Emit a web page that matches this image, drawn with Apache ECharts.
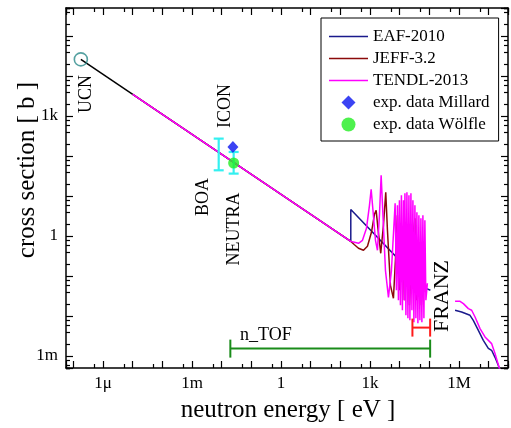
<!DOCTYPE html>
<html><head><meta charset="utf-8">
<script src="https://cdn.jsdelivr.net/npm/echarts@6/dist/echarts.min.js"></script>
<style>html,body{margin:0;padding:0;background:#fff}#c{width:511px;height:428px}</style>
</head><body><div id="c"></div>
<script>
// ---- tick labels (exponent -> label) ----
const xTickLabels = {'-6':'1μ','-3':'1m','0':'1','3':'1k','6':'1M'};
const yTickLabels = {'-3':'1m','0':'1','3':'1k'};

// ---- data: [energy eV, cross section b] ----
const ucnPoint = [[1.78e-7, 26000]];
const extrapolation = [[1.78e-7, 26000],[1e-5, 3470]];
const eaf2010 = [
  [1e-5,3470],[224,0.733],[224,4.57],[8.1e4,0.0484],[1.08e5,0.0439],null,
  [7.33e5,0.0139],[1.22e6,0.0126],[2.34e6,0.0104],[3.02e6,0.0078],[4.47e6,0.00439],
  [6.58e6,0.00247],[9.7e6,0.00156],[1.25e7,0.00139],[1.63e7,0.000928],[2.1e7,0.000585],[2.37e7,0.000439]
];
const jeff32 = [
  [1e-5,3470],[224,0.733],[298,0.603],[407,0.493],[600,0.439],[817,0.553],[1114,1.237],
  [1406,3.49],[1603,4.39],[1845,1.557],[2291,0.3694],[2825,1.851],[3381,12.37],[3855,1.388],
  [4864,0.0585],[6138,0.0277],[7161,0.247],[8370,3.29],[9772,0.0439],[12330,1.388],
  [14390,0.0247],[18160,1.851],[21230,0.0185],[26790,0.781],[32510,2.77],[36480,0.0247],
  [46030,0.439],[53830,0.0185],[65310,0.247],[73310,0.0391]
];
const tendl2013 = [
  [1e-5,3470],[224,0.733],[298,0.696],[407,0.657],[555,0.781],[757,1.557],[955,5.85],
  [1089,14.7],[1253,4.39],[1521,0.781],[1775,0.439],[2072,3.29],[2364,32.9],[2719,3.29],
  [3302,0.1388],[4168,0.0293],[5260,0.1388],[7000,6.57],[7741,0.0439],[8370,5.85],
  [9040,0.0247],[9772,7.81],[10560,0.0185],[11400,10.4],[12330,0.0139],[13330,7.81],
  [14390,0.0247],[14960,11.7],[16180,0.0104],[17470,12.4],[18880,0.00876],[20420,10.4],
  [22050,0.0078],[23840,11.7],[25760,0.0139],[27820,7.81],[30060,0.00696],[32510,5.85],
  [35110,0.00876],[37930,3.91],[41020,0.00657],[44260,3.29],[47860,0.0078],[51760,2.77],
  [55850,0.00696],[60390,3.29],[65310,0.00876],[70470,2.47],[76210,0.0247],[85700,0.0657],null,
  [7.33e5,0.0233],[1.08e6,0.0233],[1.40e6,0.0204],[2.06e6,0.0153],[2.66e6,0.0139],
  [3.46e6,0.00944],[5.10e6,0.00484],[7.5e6,0.00299],[1.25e7,0.00204],[1.63e7,0.00115],
  [2.22e7,0.000531],[2.46e7,0.000391]
];
const millard = [[0.0238, 168]];
const woelfle = [[0.0252, 66.8]];
// vertical error bars: [energy, low, high]
const cyanErrors = [[0.0079, 43.9, 272],[0.0252, 36.3, 126]];
// facility ranges: [E from, E to, level]
const ntofRange = [[0.0195, 1.06e5, 0.00153]];
const franzRange = [[2.68e4, 1.06e5, 0.00513]];

// ---- helpers ----
const L = v => Math.log10(v);
const toLog = arr => arr.map(p => p === null ? ['-','-'] : [L(p[0]), L(p[1])]);
const FONT = "'Liberation Serif','Times New Roman',Times,serif";
const XMIN = -7.25, XMAX = 7.65, YMIN = -3.3, YMAX = 5.7;
const X_MINOR = [5].map(Math.log10);
const Y_MINOR = [2,4,6,8].map(Math.log10);

function lab(map){
  return v => { const r = Math.round(v); return (Math.abs(v - r) < 1e-6 && map[r] !== undefined) ? map[r] : ''; };
}
function mkX(off, pos, major, showLabel){
  return {
    type:'value', position:pos, min:XMIN - off, max:XMAX - off,
    splitNumber:15, minInterval:1, maxInterval:1,
    axisLine:{show: off === 0, onZero:false, lineStyle:{color:'#000', width:1.5}},
    axisTick:{show:true, inside:true, length: major ? 7 : 4, lineStyle:{color:'#000', width:1.2}},
    axisLabel:{show:showLabel, margin:7, fontFamily:FONT, fontSize:17, color:'#000', formatter: lab(xTickLabels)},
    splitLine:{show:false}
  };
}
function mkY(off, pos, major, showLabel){
  return {
    type:'value', position:pos, min:YMIN - off, max:YMAX - off,
    splitNumber:9, minInterval:1, maxInterval:1,
    axisLine:{show: off === 0, onZero:false, lineStyle:{color:'#000', width:1.5}},
    axisTick:{show:true, inside:true, length: major ? 7 : 4, lineStyle:{color:'#000', width:1.2}},
    axisLabel:{show:showLabel, margin:8, fontFamily:FONT, fontSize:17, color:'#000', formatter: lab(yTickLabels)},
    splitLine:{show:false}
  };
}
const xAxes = [mkX(0,'bottom',true,true), mkX(0,'top',true,false)];
X_MINOR.forEach(o => { xAxes.push(mkX(o,'bottom',false,false)); xAxes.push(mkX(o,'top',false,false)); });
const yAxes = [mkY(0,'left',true,true), mkY(0,'right',true,false)];
Y_MINOR.forEach(o => { yAxes.push(mkY(o,'left',false,false)); yAxes.push(mkY(o,'right',false,false)); });

function lineSeries(name, data, color, z){
  return {name, type:'line', data: toLog(data), showSymbol:false, symbol:'none',
    lineStyle:{color, width:1.5}, itemStyle:{color}, connectNulls:false, z, animation:false};
}
function hRange(name, data, color){
  return {name, type:'custom', z:5, animation:false,
    data: data.map(d => [L(d[0]), L(d[1]), L(d[2])]),
    encode:{x:[0,1], y:2},
    renderItem(params, api){
      const p1 = api.coord([api.value(0), api.value(2)]);
      const p2 = api.coord([api.value(1), api.value(2)]);
      const st = {stroke: color, lineWidth: 2};
      return {type:'group', children:[
        {type:'line', shape:{x1:p1[0], y1:p1[1], x2:p2[0], y2:p2[1]}, style:st},
        {type:'line', shape:{x1:p1[0], y1:p1[1]-9, x2:p1[0], y2:p1[1]+9}, style:st},
        {type:'line', shape:{x1:p2[0], y1:p2[1]-9, x2:p2[0], y2:p2[1]+9}, style:st}
      ]};
    }};
}
function vErr(name, data, color){
  return {name, type:'custom', z:6, animation:false,
    data: data.map(d => [L(d[0]), L(d[1]), L(d[2])]),
    encode:{x:0, y:[1,2]},
    renderItem(params, api){
      const lo = api.coord([api.value(0), api.value(1)]);
      const hi = api.coord([api.value(0), api.value(2)]);
      const st = {stroke: color, lineWidth: 2.2};
      return {type:'group', children:[
        {type:'line', shape:{x1:lo[0], y1:lo[1], x2:hi[0], y2:hi[1]}, style:st},
        {type:'line', shape:{x1:lo[0]-5, y1:lo[1], x2:lo[0]+5, y2:lo[1]}, style:st},
        {type:'line', shape:{x1:hi[0]-5, y1:hi[1], x2:hi[0]+5, y2:hi[1]}, style:st}
      ]};
    }};
}

function txt(text, x, y, size, rot, align){
  return {type:'text', x, y, rotation: rot ? Math.PI/2 : 0, z:100,
    style:{text, fontFamily:FONT, fontSize:size, fill:'#000', align: align || 'center', verticalAlign:'middle'}};
}

const LINE_ICON = 'path://M0,0L100,0L100,4L0,4Z';
const DIAMOND_ICON = 'path://M0,-1L1,0L0,1L-1,0Z';

const chart = echarts.init(document.getElementById('c'), null, {renderer:'canvas'});
chart.setOption({
  animation:false,
  backgroundColor:'#fff',
  grid:{left:66, right:1, top:8, bottom:60, containLabel:false},
  xAxis: xAxes,
  yAxis: yAxes,
  legend:{
    orient:'vertical', left:321, top:18, padding:[10, 9, 8, 8],
    itemWidth:39, itemHeight:14, itemGap:5, symbolKeepAspect:true,
    borderColor:'#000', borderWidth:1, backgroundColor:'#fff', borderRadius:0,
    textStyle:{fontFamily:FONT, fontSize:17, color:'#000'},
    data:[
      {name:'EAF-2010', icon:LINE_ICON},
      {name:'JEFF-3.2', icon:LINE_ICON},
      {name:'TENDL-2013', icon:LINE_ICON},
      {name:'exp. data Millard', icon:DIAMOND_ICON},
      {name:'exp. data Wölfle', icon:'circle'}
    ]
  },
  series:[
    lineSeries('extrapolation', extrapolation, '#000000', 2),
    lineSeries('EAF-2010', eaf2010, '#1a1a8c', 3),
    lineSeries('JEFF-3.2', jeff32, '#8b0a0a', 3),
    lineSeries('TENDL-2013', tendl2013, '#ff00ff', 4),
    hRange('n_TOF range', ntofRange, '#1a8c1a'),
    hRange('FRANZ range', franzRange, '#ff1a1a'),
    vErr('cyan errors', cyanErrors, '#33f0f0'),
    {name:'UCN', type:'scatter', data: toLog(ucnPoint), symbol:'circle', symbolSize:13, z:7,
      itemStyle:{color:'rgba(255,255,255,0)', borderColor:'#2a8a8a', borderWidth:1.6}},
    {name:'exp. data Millard', type:'scatter', data: toLog(millard), symbol:'diamond', symbolSize:[11,12], z:8,
      itemStyle:{color:'#0a14f0'}},
    {name:'exp. data Wölfle', type:'scatter', data: toLog(woelfle), symbol:'circle', symbolSize:11, z:8,
      itemStyle:{color:'#22ee22'}}
  ],
  graphic:[
    txt('cross section [ b ]', 27, 170, 25, true),
    txt('neutron energy [ eV ]', 288, 410, 25, false),
    txt('UCN', 86, 94, 18, true),
    txt('ICON', 225, 106, 18, true),
    txt('BOA', 203, 197, 18, true),
    txt('NEUTRA', 234, 229, 18, true),
    txt('FRANZ', 442, 296, 22, true),
    txt('n_TOF', 240, 335, 18, false, 'left')
  ]
});
</script>
</body></html>
